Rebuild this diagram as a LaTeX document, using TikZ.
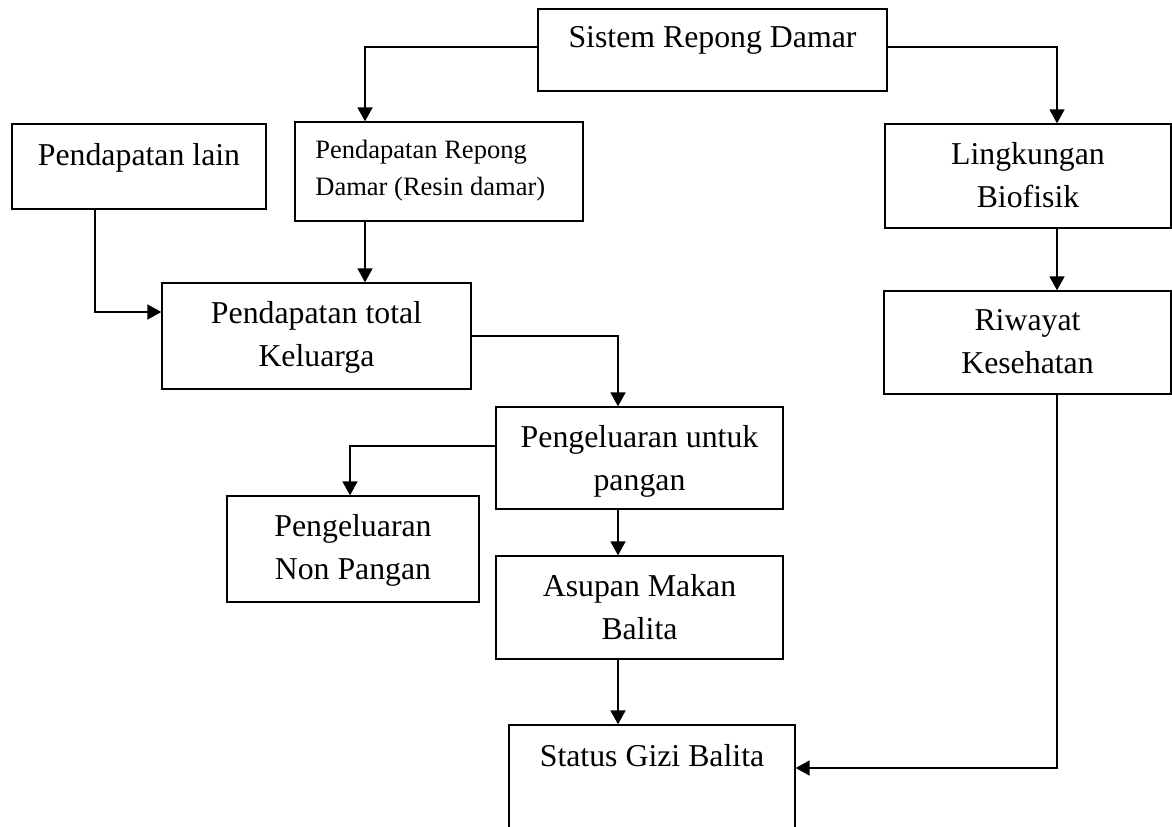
\documentclass[tikz,border=0pt]{standalone}
\usepackage{fontspec}
\setmainfont{Liberation Serif}
\usetikzlibrary{positioning,arrows.meta,calc}

\begin{document}
\begin{tikzpicture}[x=0.02cm, y=-0.02cm,
  box/.style={draw, line width=0.75pt, inner sep=0pt},
  lbl/.style={inner sep=0pt, anchor=north, align=center, font=\fontsize{18.1}{24.4}\selectfont},
  con/.style={line width=1pt, -{Triangle[length=0.28cm, width=0.3cm]}}]
\clip (0,0) rectangle (1172,827);
% boxes
\node[box, minimum width=6.98cm, minimum height=1.64cm] (sistem) at (712.5,50) {};
\node[box, minimum width=5.08cm, minimum height=1.70cm] (lain) at (139,166.5) {};
\node[box, minimum width=5.76cm, minimum height=1.98cm] (repong) at (439,171.5) {};
\node[box, minimum width=6.18cm, minimum height=2.12cm] (total) at (316.5,336) {};
\node[box, minimum width=5.72cm, minimum height=2.08cm] (lingk) at (1028,176) {};
\node[box, minimum width=5.74cm, minimum height=2.06cm] (riwayat) at (1027.5,342.5) {};
\node[box, minimum width=5.74cm, minimum height=2.04cm] (pangan) at (639.5,458) {};
\node[box, minimum width=5.04cm, minimum height=2.12cm] (nonpangan) at (353,549) {};
\node[box, minimum width=5.74cm, minimum height=2.06cm] (asupan) at (639.5,607.5) {};
\node[box, minimum width=5.72cm, minimum height=2.90cm] (status) at (652,797.5) {};
% texts
\node[lbl] (t-sistem) at (712.5,26) {Sistem Repong Damar};
\node[lbl] (t-lain) at (139,143) {Pendapatan lain};
\node[lbl, anchor=north west, align=left, font=\fontsize{15.1}{21}\selectfont] (t-repong) at (315,140)
  {Pendapatan Repong\\Damar (Resin damar)};
\node[lbl] (t-total) at (316.5,301) {Pendapatan total\\Keluarga};
\node[lbl] (t-lingk) at (1028,142) {Lingkungan\\Biofisik};
\node[lbl] (t-riwayat) at (1027.5,309) {Riwayat\\Kesehatan};
\node[lbl] (t-pangan) at (639.5,425) {Pengeluaran untuk\\pangan};
\node[lbl] (t-nonpangan) at (353,514) {Pengeluaran\\Non Pangan};
\node[lbl] (t-asupan) at (639.5,574) {Asupan Makan\\Balita};
\node[lbl] (t-status) at (652,744) {Status Gizi Balita};
% connectors
\draw[con] ([yshift=0.06cm]sistem.west) -| ([xshift=-1.48cm]repong.north);
\draw[con] ([yshift=0.06cm]sistem.east) -| ([xshift=0.58cm]lingk.north);
\draw[con] ([xshift=-0.88cm]lain.south) |- ([yshift=0.48cm]total.west);
\draw[con] ([xshift=-1.48cm]repong.south) -- ([xshift=0.97cm]total.north);
\draw[con] (total.east) -| ([xshift=-0.43cm]pangan.north);
\draw[con] ([yshift=0.24cm]pangan.west) -| ([xshift=-0.06cm]nonpangan.north);
\draw[con] ([xshift=-0.43cm]pangan.south) -- ([xshift=-0.43cm]asupan.north);
\draw[con] ([xshift=-0.43cm]asupan.south) -- ([xshift=-0.68cm]status.north);
\draw[con] ([xshift=0.58cm]lingk.south) -- ([xshift=0.59cm]riwayat.north);
\draw[con] ([xshift=0.59cm]riwayat.south) |- ([yshift=0.59cm]status.east);
\end{tikzpicture}
\end{document}
